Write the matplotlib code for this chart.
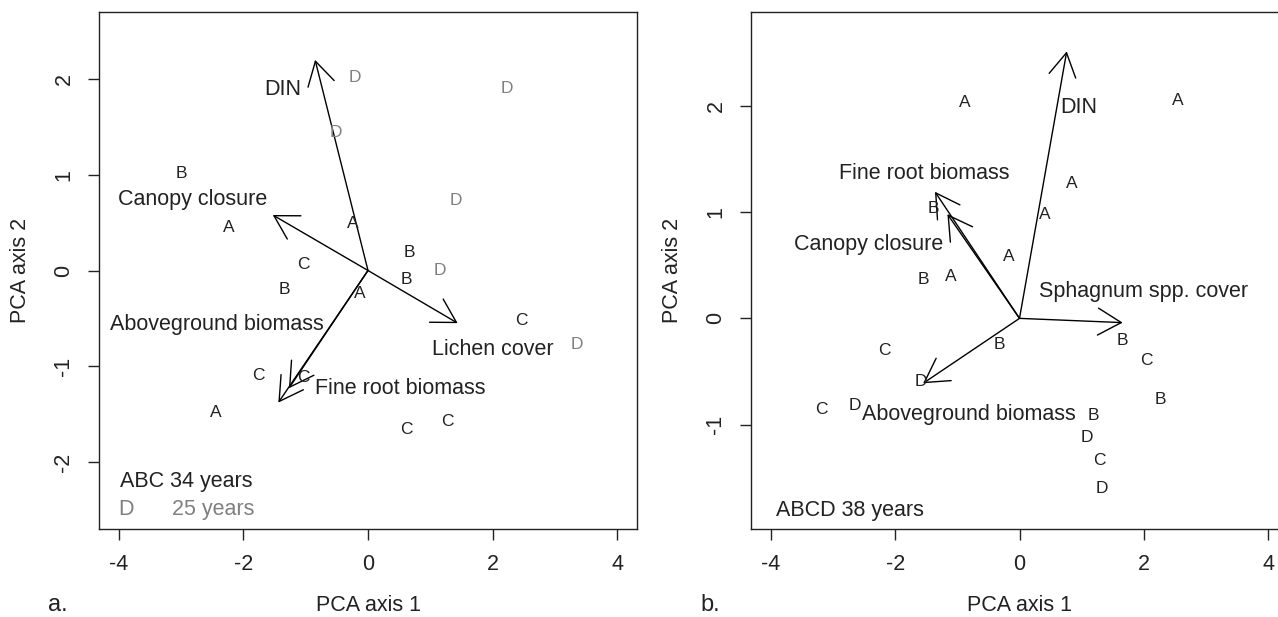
import matplotlib
matplotlib.use("Agg")
import matplotlib.pyplot as plt

plt.rcParams['font.family'] = ['Liberation Sans', 'DejaVu Sans']

# ---------------- Panel a data ----------------
a_letters = ['A', 'A', 'A', 'A',
             'B', 'B', 'B', 'B',
             'C', 'C', 'C', 'C', 'C', 'C',
             'D', 'D', 'D', 'D', 'D', 'D']
a_x = [-2.23, -0.25, -0.14, -2.45,
       -2.99, 0.67, 0.61, -1.34,
       -1.03, 2.47, -1.76, -1.04, 0.62, 1.27,
       -0.21, 2.23, -0.51, 1.41, 1.16, 3.36]
a_y = [0.45, 0.49, -0.24, -1.48,
       1.01, 0.19, -0.09, -0.20,
       0.06, -0.52, -1.10, -1.12, -1.66, -1.58,
       2.02, 1.90, 1.44, 0.73, 0.00, -0.77]

a_vars = ['DIN', 'Canopy closure', 'Aboveground biomass', 'Fine root biomass', 'Lichen cover']
a_vx = [-0.85, -1.53, -1.44, -1.27, 1.44]
a_vy = [2.20, 0.58, -1.38, -1.23, -0.55]
a_lab_x = [-1.37, -2.82, -2.42, 0.51, 2.00]
a_lab_y = [1.89, 0.74, -0.56, -1.23, -0.83]

# ---------------- Panel b data ----------------
b_letters = ['A', 'A', 'A', 'A', 'A', 'A',
             'B', 'B', 'B', 'B', 'B', 'B',
             'C', 'C', 'C', 'C',
             'D', 'D', 'D', 'D']
b_x = [-0.88, 2.55, 0.84, 0.40, -0.17, -1.11,
       -1.38, -1.55, 1.66, 2.27, -0.33, 1.19,
       2.04, -2.18, -3.18, 1.28,
       -1.59, -2.65, 1.08, 1.33]
b_y = [2.03, 2.05, 1.27, 0.98, 0.58, 0.39,
       1.03, 0.37, -0.21, -0.76, -0.25, -0.91,
       -0.40, -0.30, -0.86, -1.34,
       -0.59, -0.82, -1.12, -1.60]

b_vars = ['DIN', 'Fine root biomass', 'Canopy closure', 'Sphagnum spp. cover', 'Aboveground biomass']
b_vx = [0.76, -1.36, -1.16, 1.66, -1.55]
b_vy = [2.51, 1.19, 0.98, -0.04, -0.61]
b_lab_x = [0.95, -1.53, -2.42, 2.00, -0.82]
b_lab_y = [1.98, 1.36, 0.69, 0.25, -0.90]

x_ticks = [-4, -2, 0, 2, 4]
a_y_ticks = [-2, -1, 0, 1, 2]
b_y_ticks = [-1, 0, 1, 2]

GRAY = '#808080'
INK = '#222222'
LAB_FS = 15.5
PT_FS = 12.5

W, H = 1278, 617
fig = plt.figure(figsize=(W / 100, H / 100), dpi=100)
axA = fig.add_axes([99 / W, 88 / H, 538 / W, 517 / H])
axB = fig.add_axes([751 / W, 88 / H, 537 / W, 517 / H])


def style_axes(ax, xlim, ylim, yticks):
    ax.set_xlim(*xlim)
    ax.set_ylim(*ylim)
    ax.set_xticks(x_ticks)
    ax.set_yticks(yticks)
    ax.set_xticklabels([str(t) for t in x_ticks])
    ax.set_yticklabels([str(t) for t in yticks])
    for s in ax.spines.values():
        s.set_linewidth(1.0)
        s.set_color(INK)
    ax.tick_params(direction='out', length=7.7, width=1.0, labelsize=LAB_FS,
                   color=INK, labelcolor=INK)
    ax.tick_params(axis='x', pad=10.5)
    ax.tick_params(axis='y', pad=10)
    for t in ax.get_yticklabels():
        t.set_rotation(90)
        t.set_va('center')
    ax.set_xlabel('PCA axis 1', fontsize=LAB_FS, labelpad=14, color=INK)
    ax.set_ylabel('PCA axis 2', fontsize=LAB_FS, labelpad=16, color=INK)


def draw_arrows(ax, vx, vy):
    for x, y in zip(vx, vy):
        ax.annotate('', xy=(x, y), xytext=(0, 0),
                    arrowprops=dict(arrowstyle='->,head_length=16.8,head_width=9.7',
                                    mutation_scale=1, lw=1.0, color='black',
                                    shrinkA=0, shrinkB=0))


style_axes(axA, (-4.32, 4.32), (-2.7, 2.7), a_y_ticks)
style_axes(axB, (-4.32, 4.32), (-1.98, 2.88), b_y_ticks)

# Panel a
draw_arrows(axA, a_vx, a_vy)
for lt, x, y in zip(a_letters, a_x, a_y):
    axA.text(x, y, lt, fontsize=PT_FS, ha='center', va='center',
             color=(GRAY if lt == 'D' else INK))
for name, x, y in zip(a_vars, a_lab_x, a_lab_y):
    axA.text(x, y, name, fontsize=LAB_FS, ha='center', va='center', color=INK)
axA.text(-3.99, -2.20, 'ABC 34 years', fontsize=LAB_FS, ha='left', va='center', color=INK)
axA.text(-3.88, -2.50, 'D', fontsize=LAB_FS, ha='center', va='center', color=GRAY)
axA.text(-3.15, -2.50, '25 years', fontsize=LAB_FS, ha='left', va='center', color=GRAY)

# Panel b
draw_arrows(axB, b_vx, b_vy)
for lt, x, y in zip(b_letters, b_x, b_y):
    axB.text(x, y, lt, fontsize=PT_FS, ha='center', va='center', color=INK)
for name, x, y in zip(b_vars, b_lab_x, b_lab_y):
    axB.text(x, y, name, fontsize=LAB_FS, ha='center', va='center', color=INK)
axB.text(-3.92, -1.81, 'ABCD 38 years', fontsize=LAB_FS, ha='left', va='center', color=INK)

fig.text(58 / W, 1 - 611 / H, 'a.', fontsize=17, ha='center', va='baseline', color=INK)
fig.text(710 / W, 1 - 611 / H, 'b.', fontsize=17, ha='center', va='baseline', color=INK)

fig.savefig('out.png', dpi=100)
